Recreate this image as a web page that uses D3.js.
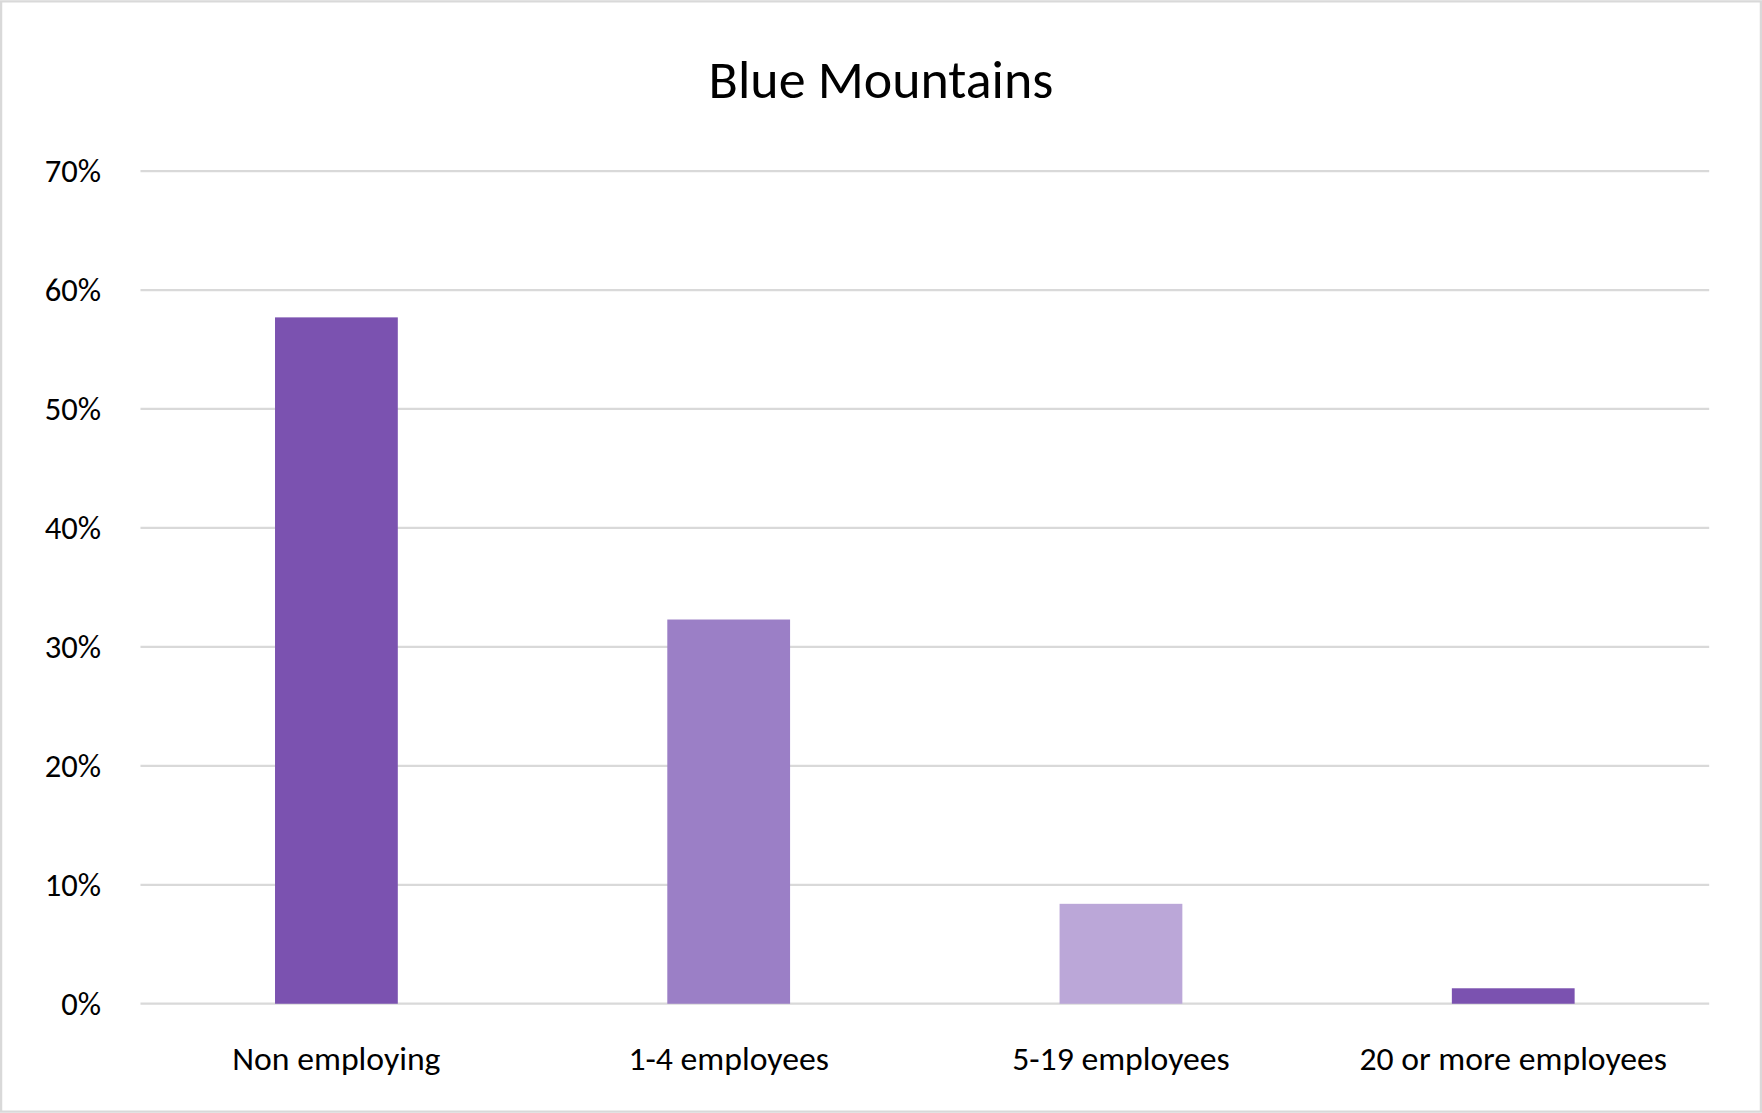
<!DOCTYPE html>
<html><head><meta charset="utf-8">
<script src="https://cdn.jsdelivr.net/npm/d3@7"></script>
<style>body{margin:0;background:#fff}</style>
</head><body>
<svg id="chart" width="1762" height="1113" viewBox="0 0 1568 990"></svg>
<script>
// chart data
const categories = ["Non employing", "1-4 employees", "5-19 employees", "20 or more employees"];
const values = [0.577, 0.323, 0.084, 0.013];
const colors = ["#7B52B0", "#9B7FC6", "#BBA7D8", "#7B52B0"];
const yTicks = [0, 0.1, 0.2, 0.3, 0.4, 0.5, 0.6, 0.7];

const svg = d3.select("#chart");
const font = "'Carlito','Noto Sans',sans-serif";

svg.append("rect").attr("x", 1).attr("y", 1).attr("width", 1566).attr("height", 988)
  .attr("fill", "#fff").attr("stroke", "#d9d9d9").attr("stroke-width", 2);

const x = d3.scaleBand().domain(categories).range([125, 1521]).paddingInner(0.687).paddingOuter(0.343);
const y = d3.scaleLinear().domain([0, 0.7]).range([893, 152]);

// gridlines
svg.append("g").selectAll("line").data(yTicks).join("line")
  .attr("x1", 125).attr("x2", 1521)
  .attr("y1", d => y(d)).attr("y2", d => y(d))
  .attr("stroke", "#d9d9d9").attr("stroke-width", 2);

// y tick labels
svg.append("g").selectAll("text").data(yTicks).join("text")
  .attr("x", 90).attr("y", d => y(d)).attr("dy", "0.35em")
  .attr("text-anchor", "end").attr("font-family", font).attr("font-size", 29).attr("fill", "#000")
  .text(d3.format(".0%"));

// bars
svg.append("g").selectAll("rect").data(values).join("rect")
  .attr("x", (d, i) => x(categories[i])).attr("width", x.bandwidth())
  .attr("y", d => y(d)).attr("height", d => y(0) - y(d))
  .attr("fill", (d, i) => colors[i]);

// category labels
svg.append("g").selectAll("text").data(categories).join("text")
  .attr("x", d => x(d) + x.bandwidth() / 2).attr("y", 952)
  .attr("text-anchor", "middle").attr("font-family", font).attr("font-size", 30).attr("fill", "#000")
  .text(d => d);

svg.append("text").attr("x", 784).attr("y", 87).attr("text-anchor", "middle")
  .attr("font-family", font).attr("font-size", 48).attr("fill", "#000").text("Blue Mountains");
</script>
</body></html>
